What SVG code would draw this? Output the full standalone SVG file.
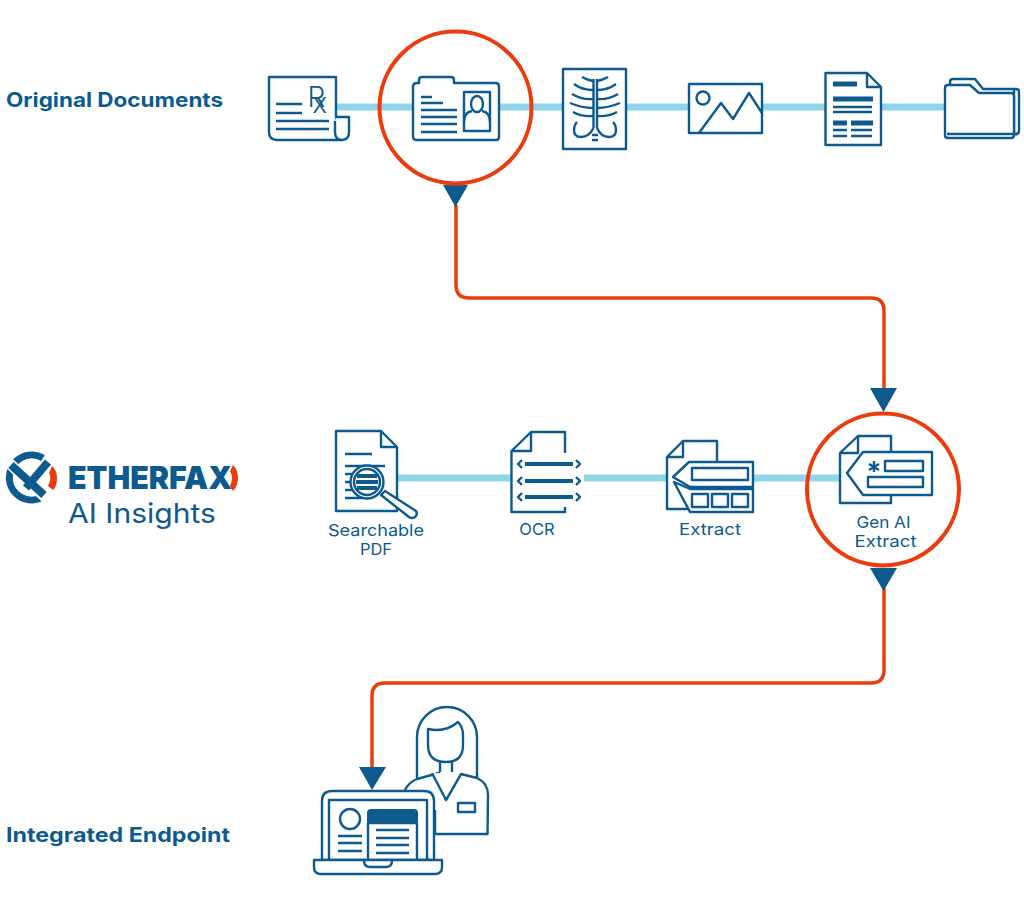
<svg xmlns="http://www.w3.org/2000/svg" width="1024" height="905" viewBox="0 0 1024 905">
<style>
.bar{fill:none;stroke:#8fd6e8;stroke-width:7}
.ring{fill:none;stroke:#ec3b0c;stroke-width:4}
.wire{fill:none;stroke:#ec3b0c;stroke-width:3.5}
.head{fill:#0c5a8e}
.i{fill:none;stroke:#0c5a8e;stroke-width:2.400;stroke-linejoin:round}
.iw{fill:#fff;stroke:#0c5a8e;stroke-width:2.400;stroke-linejoin:round}
.th{fill:none;stroke:#0c5a8e;stroke-width:5}
.m{fill:none;stroke:#0c5a8e;stroke-width:4}
text{font-family:Inter,"Liberation Sans",sans-serif;fill:#0c5a8e}
.h{font-size:20px;font-weight:700}
.l{font-size:16.500px;font-weight:400;text-anchor:middle}
</style>
<rect width="1024" height="905" fill="#fff"/>
<g id="bars">
<path class="bar" d="M336 107H944"/>
<path class="bar" d="M398 478H511M584 478H667M753 478H840"/>
</g>
<g id="connectors">
<path class="wire" d="M456 205V285Q456 298 469 298H871Q884 298 884 311V390"/>
<path class="wire" d="M884 588V670Q884 683 871 683H385Q372 683 372 696V770"/>
<path class="head" d="M443 185H468L455.500 207Z"/>
<path class="head" d="M870 388H897L883.500 412Z"/>
<path class="head" d="M870 568H897L883.500 591Z"/>
<path class="head" d="M359 767H386L372 790Z"/>
</g>
<g id="label-original"><text class="h" x="6" y="107" textLength="217" lengthAdjust="spacingAndGlyphs">Original Documents</text></g>
<g id="label-endpoint"><text class="h" x="6" y="842" textLength="224" lengthAdjust="spacingAndGlyphs">Integrated Endpoint</text></g>
<g id="doc-rx">
<path class="iw" d="M336 121V77H269V132Q269 140 277 140H342"/>
<path class="iw" d="M336 117H349V132Q349 140 342 140Q335 140 335 132V121"/>
<path class="i" d="M276 104H302M276 113H302M276 121H329M276 129H329"/>
<text x="307.500" y="107" font-size="28" font-weight="300">R<tspan dx="-13" dy="6">x</tspan></text>
</g>
<g id="doc-id">
<path class="iw" d="M413 136V87Q413 83 417 83H419V80Q419 77 422 77H451Q454 77 454 80V83H496Q499 83 499 87V137Q499 140 496 140H416Q413 140 413 136Z"/>
<rect class="i" x="464" y="92" width="26" height="39"/>
<ellipse class="i" cx="477" cy="104" rx="6" ry="8"/>
<path class="i" d="M464 122Q464 112 472 111M490 122Q490 112 482 111"/>
<path class="i" d="M421 97H432M421 103H443M421 110H457M421 117H457M421 124H457M421 132H457"/>
</g>
<g id="doc-xray">
<rect class="iw" x="563" y="69" width="63" height="80"/>
<path class="i" d="M593.500 79V128M597 79V128M593.500 128Q589 137 581 137Q574 137 574 130Q574 125 577 122M597 128Q601 137 609 137Q616 137 616 130Q616 125 613 122"/>
<path class="i" d="M593 81Q587 80 582 77M593 90Q582 90 574 84M593 99Q582 100 572 94M593 108Q582 108 570 103M593 116Q582 117 573 112M597 81Q603 80 608 77M597 90Q608 90 616 84M597 99Q608 100 618 94M597 108Q608 108 620 103M597 116Q608 117 617 112"/>
<path class="i" d="M592 135H598M592 140H598"/>
</g>
<g id="doc-image">
<rect class="iw" x="689" y="84" width="73" height="49"/>
<circle class="i" cx="703" cy="98" r="6.500"/>
<path class="i" d="M699 133L721 103L733 119L749 93L762 113"/>
</g>
<g id="doc-text">
<path class="iw" d="M825.500 73H867L881 87V145H825.500Z"/>
<path class="i" d="M867 73V87H881"/>
<path class="th" d="M833 84H857M833 99H873M833 123H847M851 123H873"/>
<path class="i" d="M833 107H872M833 112H872M833 130H847M851 130H872M833 136H847M851 136H872"/>
</g>
<g id="doc-folder">
<path class="iw" d="M950 84V82Q950 79 953 79H975L983 89H1016Q1019 89 1019 92V131Q1019 134 1016 134H1014V90"/>
<path class="iw" d="M945 88Q945 85 948 85H970L979 93H1011Q1014 93 1014 96V135Q1014 138 1011 138H948Q945 138 945 135Z"/>
<path class="i" d="M947 134H1018"/>
</g>
<g id="circle-top"><circle class="ring" cx="455.500" cy="107.500" r="76"/></g>
<g id="logo">
<path d="M43 458A22.500 22.500 0 1 0 43 497" fill="none" stroke="#0c5a8e" stroke-width="7"/>
<path d="M8 462L47 499M24 490L52 460" stroke="#fff" stroke-width="11"/>
<path d="M11 465L44 495M26 488L48 462" stroke="#0c5a8e" stroke-width="8"/>
<path d="M52 466Q57 470 57 478Q57 486 53 490L48 486Q52 478 49 473Z" fill="#ec3b0c"/>
<text x="68" y="489" font-size="32" font-weight="900" textLength="164" lengthAdjust="spacingAndGlyphs">ETHERFAX</text>
<path d="M233 465Q238 470 238 478Q238 486 233 491L230 486Q234 478 230 471Z" fill="#ec3b0c"/>
<text x="68" y="523" font-size="27.500" font-weight="400" textLength="148" lengthAdjust="spacingAndGlyphs">AI Insights</text>
</g>
<g id="searchable-pdf">
<path class="iw" d="M336 431H381L397 447V511H336Z"/>
<path class="i" d="M381 431V447H397"/>
<path class="i" d="M345 454H372M345 466H385M345 474H352M345 482H352M345 490H352M345 498H372"/>
<circle class="iw" cx="367" cy="482" r="16.500"/>
<circle class="i" cx="367" cy="482" r="13"/>
<path class="m" d="M357 476H377M356 482H378M357 488H377"/>
<path class="iw" d="M381 495L385 491L416 511Q418 514 415 517Q412 519 409 517Z"/>
<text class="l" x="376" y="536" textLength="96" lengthAdjust="spacingAndGlyphs">Searchable</text>
<text class="l" x="376" y="554.500">PDF</text>
</g>
<g id="ocr">
<path class="iw" d="M565 453V432H531L511.500 451V512H565V507"/>
<path class="i" d="M531 432V451H511.500"/>
<path class="m" d="M525 464H573M525 481H573M525 497H573"/>
<path class="i" stroke-width="2.500" d="M522 460L518 464L522 468M522 477L518 481L522 485M522 493L518 497L522 501M576 460L580 464L576 468M576 477L580 481L576 485M576 493L580 497L576 501"/>
<text class="l" x="537" y="535">OCR</text>
</g>
<g id="extract">
<path class="iw" d="M717 462V441H683L667 457V509H690"/>
<path class="i" d="M683 441V457H667"/>
<path class="iw" d="M673 477L689 462H753V487H690Z"/>
<path class="iw" d="M674 482L690 489H753V512H690Z"/>
<path class="i" d="M717 487V489"/>
<rect class="i" x="692" y="468" width="56" height="12"/>
<rect class="i" x="692" y="494" width="16" height="13"/>
<rect class="i" x="712" y="494" width="16" height="13"/>
<rect class="i" x="732" y="494" width="16" height="13"/>
<text class="l" x="710" y="535" textLength="62" lengthAdjust="spacingAndGlyphs">Extract</text>
</g>
<g id="gen-ai">
<circle class="ring" cx="883" cy="489.500" r="76"/>
<path class="iw" d="M891 452V436H858L840 453V503H891V495"/>
<path class="i" d="M858 436V453H840"/>
<path class="iw" d="M847 473L863 452H932V495H863Z"/>
<rect class="i" x="885" y="461" width="38" height="10"/>
<rect class="i" x="868" y="477" width="55" height="10"/>
<path class="i" stroke-width="3" d="M874 461V472M869 464L879 470M879 464L869 470"/>
<text class="l" x="883.500" y="528" textLength="54" lengthAdjust="spacingAndGlyphs">Gen AI</text>
<text class="l" x="885.500" y="547" textLength="62" lengthAdjust="spacingAndGlyphs">Extract</text>
</g>
<g id="endpoint">
<path class="i" d="M417 778V737A30 30 0 0 1 477 737V778"/>
<path class="iw" d="M405 790Q409 782 417 779L439 773L446 800L461 774L477 778Q488 783 488 795L487.500 834H435V810"/>
<path class="iw" d="M432 773L446 800L461 774"/>
<path class="iw" d="M428 729Q445 733 458 722Q463 727 463 735V745Q463 762 446 762Q428 762 428 745Z"/>
<path class="i" d="M440 762V772M452 762V772"/>
<rect class="i" x="458" y="803" width="17" height="9"/>
<path class="iw" d="M322 860V801Q322 791 332 791H424Q434 791 434 801V860Z"/>
<path class="i" d="M329 860V800H427V860"/>
<path class="iw" d="M314 860H442V867Q442 874 435 874H321Q314 874 314 867Z"/>
<path class="i" d="M364 861Q364 867 370 867H386Q392 867 392 861"/>
<circle class="i" cx="350" cy="819" r="10"/>
<path class="i" d="M338 836H362M338 843H362M338 851H362"/>
<path class="i" d="M368 860V823H417V860"/>
<path class="head" d="M367 823V813Q367 809 371 809H414Q418 809 418 813V823Z"/>
<path class="i" d="M376 830H409M376 838H409M376 845H409M376 853H409"/>
</g>
</svg>
